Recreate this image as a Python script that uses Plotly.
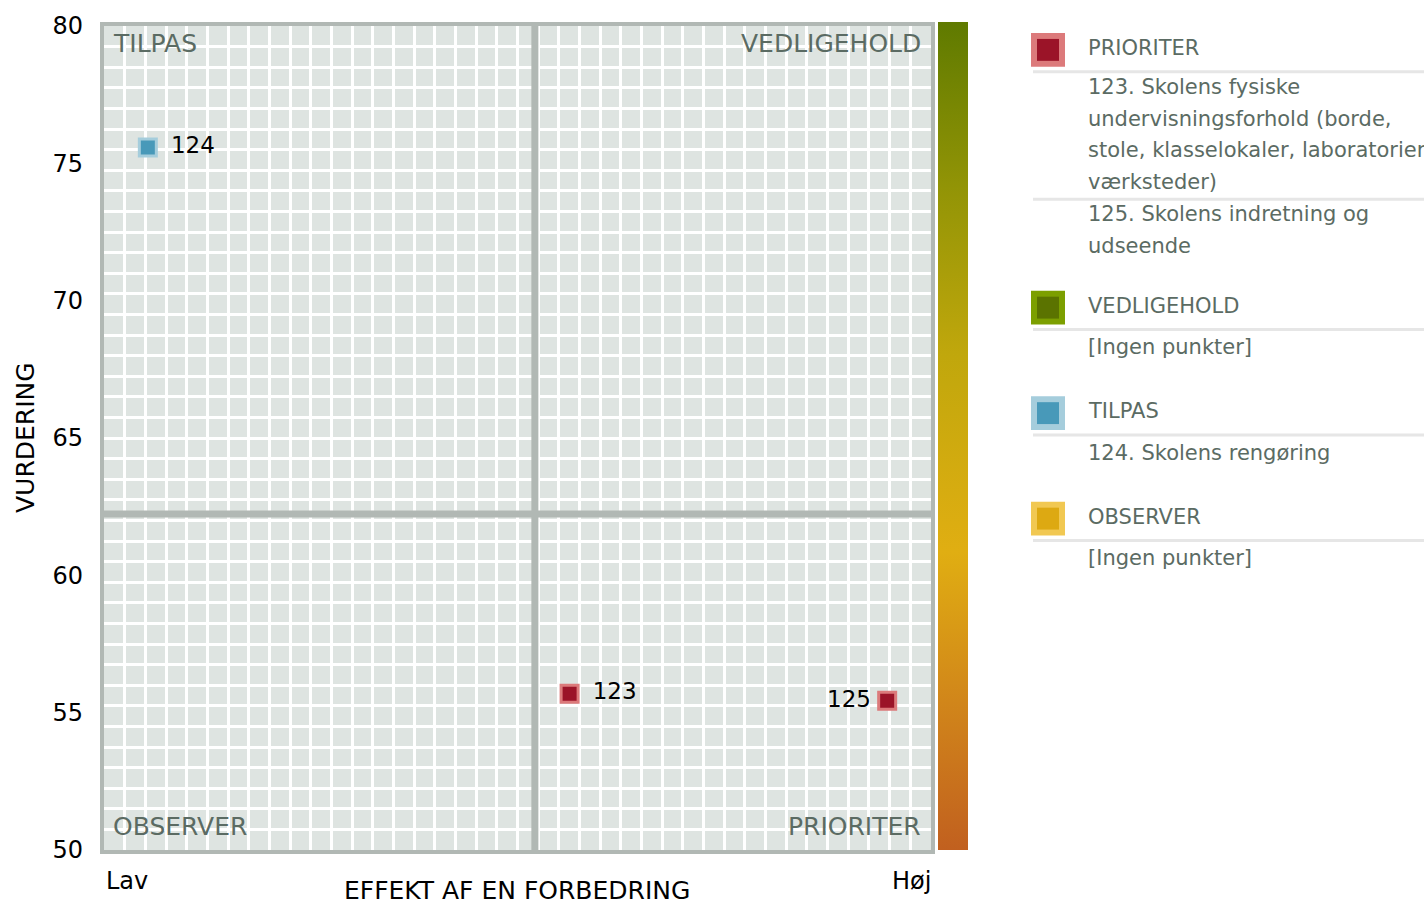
import plotly.graph_objects as go

# ---------------- data ----------------
point_ids = ["123", "124", "125"]
effect = [0.563, 0.053, 0.947]
rating = [55.69, 75.58, 55.43]
point_group = ["PRIORITER", "TILPAS", "PRIORITER"]
label_side = ["middle right", "middle right", "middle left"]

y_tick_values = [50, 55, 60, 65, 70, 75, 80]
x_end_labels = ["Lav", "Høj"]
x_title = "EFFEKT AF EN FORBEDRING"
y_title = "VURDERING"

groups = ["PRIORITER", "VEDLIGEHOLD", "TILPAS", "OBSERVER"]
group_items = [
    [["123. Skolens fysiske", "undervisningsforhold (borde,",
      "stole, klasselokaler, laboratorier,", "værksteder)"],
     ["125. Skolens indretning og", "udseende"]],
    [["[Ingen punkter]"]],
    [["124. Skolens rengøring"]],
    [["[Ingen punkter]"]],
]
group_fill = {"PRIORITER": "#9b1428", "VEDLIGEHOLD": "#5b7300",
              "TILPAS": "#4899b9", "OBSERVER": "#dda912"}
group_edge = {"PRIORITER": "#dc7a7b", "VEDLIGEHOLD": "#7c9f00",
              "TILPAS": "#a5cddc", "OBSERVER": "#f1c852"}

# quadrant labels: (name, corner)
quadrant_labels = [("TILPAS", "tl"), ("VEDLIGEHOLD", "tr"),
                   ("OBSERVER", "bl"), ("PRIORITER", "br")]

gradient_stops = [[0.0, "#c1601f"], [0.18, "#d1861a"], [0.36, "#e0ae12"],
                  [0.6, "#c0a70c"], [0.8, "#929406"], [1.0, "#5f7a00"]]

# ---------------- layout geometry ----------------
FW, FH = 1424, 906
L, T, W, H = 104, 22, 827, 828
TXT_SHIFT = 3  # annotation text renders slightly low; compensate


def px(x):
    return (x - L) / W


def py(y):
    return (T + H - y) / H


FONT = "DejaVu Sans"
TXT_GRAY = "#5b6b63"
BORDER = "#b1b8b4"

fig = go.Figure()

fig.add_trace(go.Scatter(
    x=effect, y=rating, mode="markers+text",
    text=[("\u2002" + t) if s.endswith("right") else (t + "\u2009")
          for t, s in zip(point_ids, label_side)],
    textposition=label_side,
    textfont=dict(family=FONT, size=23, color="black"),
    marker=dict(symbol="square", size=17,
                color=[group_fill[g] for g in point_group],
                line=dict(width=3, color=[group_edge[g] for g in point_group])),
    hoverinfo="skip", showlegend=False, cliponaxis=False,
))

# dummy trace carrying the gradient bar and the labelled y axis
fig.add_trace(go.Scatter(
    x=[None], y=[None], yaxis="y2", mode="markers", showlegend=False,
    marker=dict(color=[0], cmin=0, cmax=1, colorscale=gradient_stops,
                showscale=True,
                colorbar=dict(x=px(938), xanchor="left", xpad=0,
                              y=py(18), yanchor="top", ypad=0,
                              len=828, lenmode="pixels",
                              thickness=30, thicknessmode="pixels",
                              outlinewidth=0, showticklabels=False, ticks="")),
))

mean_x = sum(effect) / len(effect)
mean_y = sum(rating) / len(rating)

shapes = [
    dict(type="line", xref="x", yref="paper", x0=mean_x, x1=mean_x, y0=0, y1=1,
         line=dict(color=BORDER, width=7), layer="above"),
    dict(type="line", xref="paper", yref="y", x0=0, x1=1, y0=mean_y, y1=mean_y,
         line=dict(color=BORDER, width=7), layer="above"),
]
annotations = []

# quadrant labels
for name, corner in quadrant_labels:
    left = corner[1] == "l"
    top = corner[0] == "t"
    annotations.append(dict(
        text=name, xref="paper", yref="paper",
        x=px(111) if left else px(923), xanchor="left" if left else "right",
        y=py((43 if top else 829) - TXT_SHIFT), yanchor="middle", showarrow=False,
        font=dict(family=FONT, size=25, color=TXT_GRAY)))

# axis titles & end labels
annotations.append(dict(text=x_end_labels[0], xref="paper", yref="paper",
                        x=0, xanchor="left", y=py(881), yanchor="middle",
                        showarrow=False, font=dict(family=FONT, size=24, color="black")))
annotations.append(dict(text=x_end_labels[1], xref="paper", yref="paper",
                        x=px(933), xanchor="right", y=py(881), yanchor="middle",
                        showarrow=False, font=dict(family=FONT, size=24, color="black")))
annotations.append(dict(text=x_title, xref="paper", yref="paper",
                        x=px(517), xanchor="center", y=py(891), yanchor="middle",
                        showarrow=False, font=dict(family=FONT, size=25, color="black")))
annotations.append(dict(text=y_title, xref="paper", yref="paper", textangle=-90,
                        x=px(25), xanchor="center", y=py(436), yanchor="middle",
                        showarrow=False, font=dict(family=FONT, size=25, color="black")))

# custom legend
yy = 46
for gi, g in enumerate(groups):
    items = group_items[gi]
    multi = len(items) > 1
    shapes.append(dict(type="rect", xref="paper", yref="paper",
                       x0=px(1031), x1=px(1065), y0=py(yy + 17), y1=py(yy - 17),
                       fillcolor=group_edge[g], line=dict(width=0)))
    shapes.append(dict(type="rect", xref="paper", yref="paper",
                       x0=px(1037), x1=px(1059), y0=py(yy + 11), y1=py(yy - 11),
                       fillcolor=group_fill[g], line=dict(width=0)))
    annotations.append(dict(text=g, xref="paper", yref="paper", x=px(1086),
                            xanchor="left", y=py(yy + 1 - TXT_SHIFT), yanchor="middle",
                            showarrow=False,
                            font=dict(family=FONT, size=21, color=TXT_GRAY)))
    sep = yy + 22
    shapes.append(dict(type="line", xref="paper", yref="paper",
                       x0=px(1033), x1=px(1440), y0=py(sep), y1=py(sep),
                       line=dict(color="#e6e6e6", width=3)))
    line_y = sep + (18 if multi else 21)
    for ii, lines in enumerate(items):
        for li, txt in enumerate(lines):
            annotations.append(dict(text=txt, xref="paper", yref="paper", x=px(1086),
                                    xanchor="left", y=py(line_y - TXT_SHIFT),
                                    yanchor="middle", showarrow=False,
                                    font=dict(family=FONT, size=21, color=TXT_GRAY)))
            if li < len(lines) - 1:
                line_y += 32
        if ii < len(items) - 1:
            sep2 = line_y + 14
            shapes.append(dict(type="line", xref="paper", yref="paper",
                               x0=px(1033), x1=px(1440), y0=py(sep2), y1=py(sep2),
                               line=dict(color="#e6e6e6", width=3)))
            line_y = sep2 + 18
    yy = line_y + (59 if multi else 63)

fig.update_layout(
    width=FW, height=FH, autosize=False,
    margin=dict(l=L, r=FW - L - W, t=T, b=FH - T - H, pad=0),
    paper_bgcolor="white", plot_bgcolor="#dee4e1",
    font=dict(family=FONT, color="black"),
    xaxis=dict(range=[0, 1], tick0=0, dtick=0.025, showgrid=True,
               gridcolor="white", gridwidth=3, showticklabels=False, ticks="",
               zeroline=False, showline=True, mirror=True, linecolor=BORDER,
               linewidth=4, fixedrange=True),
    yaxis=dict(range=[50, 80], tick0=50, dtick=0.75, showgrid=True,
               gridcolor="white", gridwidth=3, showticklabels=False, ticks="",
               zeroline=False, showline=True, mirror=True, linecolor=BORDER,
               linewidth=4, fixedrange=True),
    yaxis2=dict(range=[50, 80], overlaying="y", side="left", tickmode="array",
                tickvals=y_tick_values, showgrid=False, zeroline=False,
                showline=False, ticks="", ticklabelstandoff=20,
                tickfont=dict(family=FONT, size=24, color="black"),
                fixedrange=True),
    shapes=shapes, annotations=annotations,
    showlegend=False,
)

fig.write_html("out.html", config={"displayModeBar": False},
               post_script="document.body.style.margin='0';"
                           "document.body.style.overflow='hidden';")
